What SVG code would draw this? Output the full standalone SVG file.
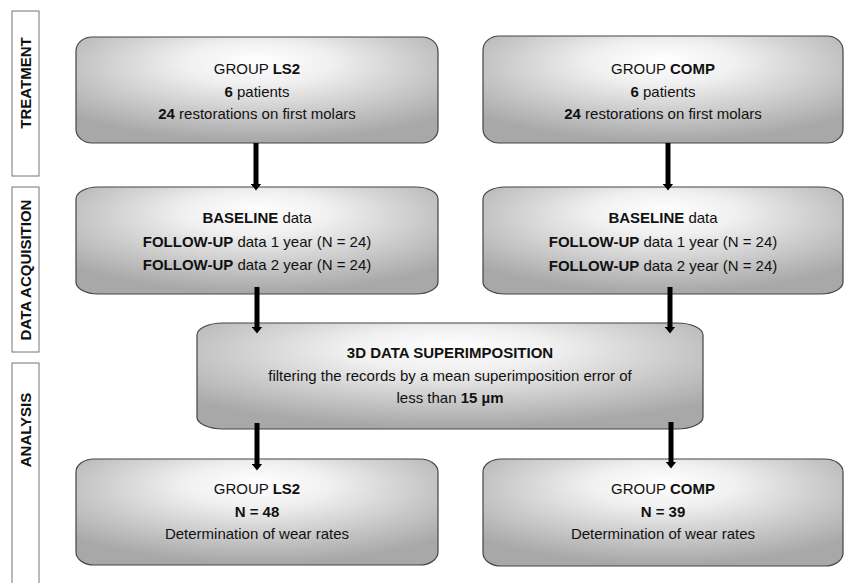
<svg xmlns="http://www.w3.org/2000/svg" width="844" height="583" viewBox="0 0 844 583">
<defs>
<radialGradient id="g" cx="0.5" cy="0.3" r="0.68" fx="0.5" fy="0.22">
<stop offset="0" stop-color="#ffffff"/>
<stop offset="0.3" stop-color="#f0f0f0"/>
<stop offset="1" stop-color="#a8a8a8"/>
</radialGradient>
<marker id="ah" markerUnits="userSpaceOnUse" markerWidth="8" markerHeight="11" viewBox="0 0 8 11" refX="0.5" refY="5.5" orient="auto">
<path d="M0,0 L7,5.5 L0,11 Z" fill="#000"/>
</marker>
</defs>
<style>
.side{fill:#fff;stroke:#777;stroke-width:1}
.sl{font-family:"Liberation Sans",Arial,sans-serif;font-size:15px;font-weight:bold;fill:#111;text-anchor:middle}
.box{fill:url(#g);stroke:#444;stroke-width:1.2}
.t{font-family:"Liberation Sans",Arial,sans-serif;font-size:15px;fill:#111;text-anchor:middle}
.b{font-weight:bold}
.arr{stroke:#000;stroke-width:5;fill:none;marker-end:url(#ah)}
</style>
<rect width="844" height="583" fill="#fff"/>
<g id="lane-treatment">
<rect class="side" x="12" y="11" width="27" height="165"/>
<text class="sl" transform="translate(31,83) rotate(-90)">TREATMENT</text>
</g>
<g id="lane-data-acquisition">
<rect class="side" x="12" y="187" width="27" height="165"/>
<text class="sl" transform="translate(31,270) rotate(-90)">DATA ACQUISITION</text>
</g>
<g id="lane-analysis">
<rect class="side" x="12" y="363" width="27" height="230"/>
<text class="sl" transform="translate(31,430) rotate(-90)">ANALYSIS</text>
</g>
<g id="treat-ls2">
<rect class="box" x="76" y="37" width="362" height="106" rx="16" ry="14"/>
<text class="t" x="257" y="74">GROUP <tspan class="b">LS2</tspan></text>
<text class="t" x="257" y="97"><tspan class="b">6</tspan> patients</text>
<text class="t" x="257" y="119"><tspan class="b">24</tspan> restorations on first molars</text>
</g>
<g id="treat-comp">
<rect class="box" x="483" y="36" width="360" height="107" rx="16" ry="14"/>
<text class="t" x="663" y="74">GROUP <tspan class="b">COMP</tspan></text>
<text class="t" x="663" y="97"><tspan class="b">6</tspan> patients</text>
<text class="t" x="663" y="119"><tspan class="b">24</tspan> restorations on first molars</text>
</g>
<g id="data-ls2">
<rect class="box" x="76" y="187" width="362" height="107" rx="22" ry="12"/>
<text class="t" x="257" y="223"><tspan class="b">BASELINE</tspan> data</text>
<text class="t" x="257" y="247"><tspan class="b">FOLLOW-UP</tspan> data 1 year (N = 24)</text>
<text class="t" x="257" y="270"><tspan class="b">FOLLOW-UP</tspan> data 2 year (N = 24)</text>
</g>
<g id="data-comp">
<rect class="box" x="483" y="187" width="360" height="107" rx="22" ry="12"/>
<text class="t" x="663" y="223"><tspan class="b">BASELINE</tspan> data</text>
<text class="t" x="663" y="247"><tspan class="b">FOLLOW-UP</tspan> data 1 year (N = 24)</text>
<text class="t" x="663" y="271"><tspan class="b">FOLLOW-UP</tspan> data 2 year (N = 24)</text>
</g>
<g id="superimposition">
<rect class="box" x="197" y="323" width="506" height="106" rx="26" ry="12"/>
<text class="t b" x="450" y="358">3D DATA SUPERIMPOSITION</text>
<text class="t" x="450" y="381">filtering the records by a mean superimposition error of</text>
<text class="t" x="450" y="403">less than <tspan class="b">15 µm</tspan></text>
</g>
<g id="analysis-ls2">
<rect class="box" x="76" y="459" width="362" height="106" rx="18" ry="13"/>
<text class="t" x="257" y="494">GROUP <tspan class="b">LS2</tspan></text>
<text class="t b" x="257" y="517">N = 48</text>
<text class="t" x="257" y="539">Determination of wear rates</text>
</g>
<g id="analysis-comp">
<rect class="box" x="483" y="459" width="360" height="107" rx="18" ry="13"/>
<text class="t" x="663" y="494">GROUP <tspan class="b">COMP</tspan></text>
<text class="t b" x="663" y="517">N = 39</text>
<text class="t" x="663" y="539">Determination of wear rates</text>
</g>
<g id="connectors">
<line class="arr" x1="256" y1="143" x2="256" y2="184"/>
<line class="arr" x1="668" y1="143" x2="668" y2="184"/>
<line class="arr" x1="257" y1="287" x2="257" y2="327"/>
<line class="arr" x1="670" y1="287" x2="670" y2="327"/>
<line class="arr" x1="257" y1="423" x2="257" y2="464"/>
<line class="arr" x1="671" y1="422" x2="671" y2="462"/>
</g>
</svg>
